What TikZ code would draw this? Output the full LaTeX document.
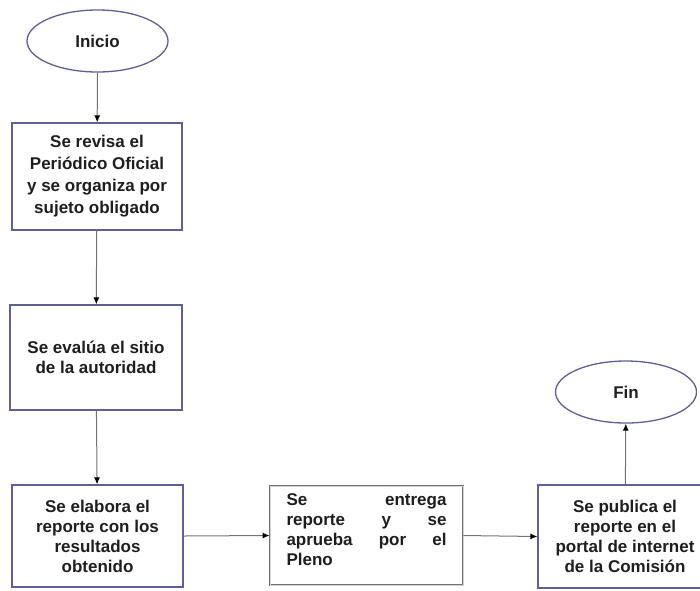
\documentclass[tikz,border=0pt]{standalone}
\usepackage{fontspec}
\setmainfont{Liberation Sans}
\usetikzlibrary{shapes.geometric,arrows.meta}
\definecolor{borde}{RGB}{96,94,150}
\definecolor{linea}{RGB}{115,115,115}
\definecolor{texto}{RGB}{30,30,30}
\begin{document}
\begin{tikzpicture}[x=1pt,y=-1pt,
	caja/.style={rectangle,draw=borde,line width=1.3pt,inner sep=0pt,align=center,text=texto,font=\fontsize{17}{20}\selectfont\bfseries},
	extremo/.style={ellipse,draw=borde,line width=1.3pt,minimum width=141pt,minimum height=62pt,text=texto,font=\fontsize{17}{20}\selectfont\bfseries},
	flecha/.style={draw=linea,line width=1pt,-{Latex[length=7pt,width=6pt,color=black]}}]
	\useasboundingbox (0,0) rectangle (700,590);
	% inicio y primera columna
	\node[extremo] (inicio) at (97.5,41) {Inicio};
	\node[caja,minimum width=170pt,minimum height=107pt,font=\fontsize{17}{22}\selectfont\bfseries] (revisa) at (97,176.5) {Se revisa el\\Periódico Oficial\\y se organiza por\\sujeto obligado};
	\node[caja,minimum width=172pt,minimum height=105pt] (evalua) at (96,357.5) {Se evalúa el sitio\\de la autoridad};
	\node[caja,minimum width=171pt,minimum height=102pt] (elabora) at (97.5,536) {Se elabora el\\reporte con los\\resultados\\obtenido};
	% fila inferior
	\node[caja,draw=linea,line width=0.9pt,double=gray!35,double distance=0.8pt,minimum width=193pt,minimum height=99pt,text width=160pt,align=left] (entrega) at (366.5,535.5) {Se\hfill entrega\\reporte\hfill y\hfill se\\aprueba\hfill por\hfill el\\Pleno\rule[-12pt]{0pt}{0pt}};
	\node[caja,minimum width=174pt,minimum height=103pt] (publica) at (625,536.5) {Se publica el\\reporte en el\\portal de internet\\de la Comisión};
	\node[extremo] (fin) at (626,392) {Fin};
	% conectores
	\draw[flecha] (inicio) -- (revisa);
	\draw[flecha] (revisa) -- (evalua);
	\draw[flecha] (evalua) -- (elabora);
	\draw[flecha] (elabora.east) -- (entrega.west);
	\draw[flecha] (entrega.east) -- (publica.west);
	\draw[flecha] (publica) -- (fin);
\end{tikzpicture}
\end{document}
